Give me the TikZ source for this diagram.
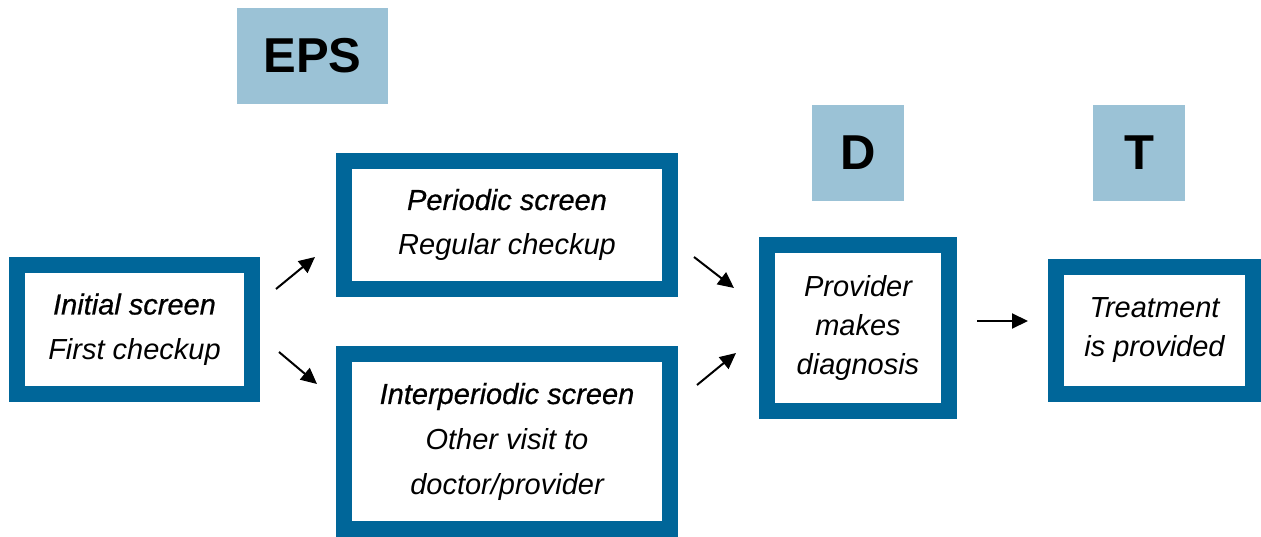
\documentclass[tikz,border=0pt]{standalone}
\usepackage{fontspec}
\setmainfont{Liberation Sans}
\newfontfamily\headfont{Liberation Sans}[FakeBold=0.6]
\usetikzlibrary{arrows.meta}
\definecolor{darkblue}{RGB}{0,102,153}
\definecolor{lightblue}{RGB}{155,194,214}
\tikzset{
  stepbox/.style={draw=darkblue, line width=16pt, fill=white, align=center, inner sep=0pt},
  bodytext/.style={font=\fontsize{29}{45}\selectfont\itshape},
  tighttext/.style={font=\fontsize{29}{39}\selectfont\itshape},
  letterbox/.style={fill=lightblue, inner sep=0pt, minimum height=96pt, font=\fontsize{49}{49}\selectfont\bfseries},
  flow/.style={line width=2pt, -{Triangle[length=16pt,width=15pt]}}
}
\newcommand{\hd}[1]{{\headfont\itshape #1}}
\begin{document}
\begin{tikzpicture}[x=1pt,y=-1pt]
\useasboundingbox (0,0) rectangle (1261,537);
% letter boxes
\node[letterbox, minimum width=151pt] (eps) at (312.5,56) {EPS};
\node[letterbox, minimum width=92pt] (dl) at (858,153) {D};
\node[letterbox, minimum width=92pt] (tl) at (1139,153) {T};
% step boxes
\node[stepbox, bodytext, minimum width=235pt, minimum height=128pt] (init) at (134.5,329.5) {\hd{Initial screen}\\First checkup};
\node[stepbox, bodytext, minimum width=326pt, minimum height=128pt] (per) at (507,225) {\hd{Periodic screen}\\Regular checkup};
\node[stepbox, bodytext, minimum width=326pt, minimum height=175pt] (inter) at (507,441.5) {\hd{Interperiodic screen}\\Other visit to\\doctor/provider};
\node[stepbox, tighttext, minimum width=182pt, minimum height=166pt] (prov) at (858,328) {Provider\\makes\\diagnosis};
\node[stepbox, tighttext, minimum width=197pt, minimum height=127pt] (treat) at (1154.5,330.5) {Treatment\\is provided};
% arrow end points
\coordinate (a1s) at (276,289);
\coordinate (a1e) at (315,257);
\coordinate (a2s) at (279,352);
\coordinate (a2e) at (317,384);
\coordinate (a3s) at (694,257);
\coordinate (a3e) at (734,288);
\coordinate (a4s) at (697,385);
\coordinate (a4e) at (736,353);
\coordinate (a5s) at (977,321);
\coordinate (a5e) at (1028,321);
\draw[flow] (a1s) -- (a1e);
\draw[flow] (a2s) -- (a2e);
\draw[flow] (a3s) -- (a3e);
\draw[flow] (a4s) -- (a4e);
\draw[flow] (a5s) -- (a5e);
\end{tikzpicture}
\end{document}
